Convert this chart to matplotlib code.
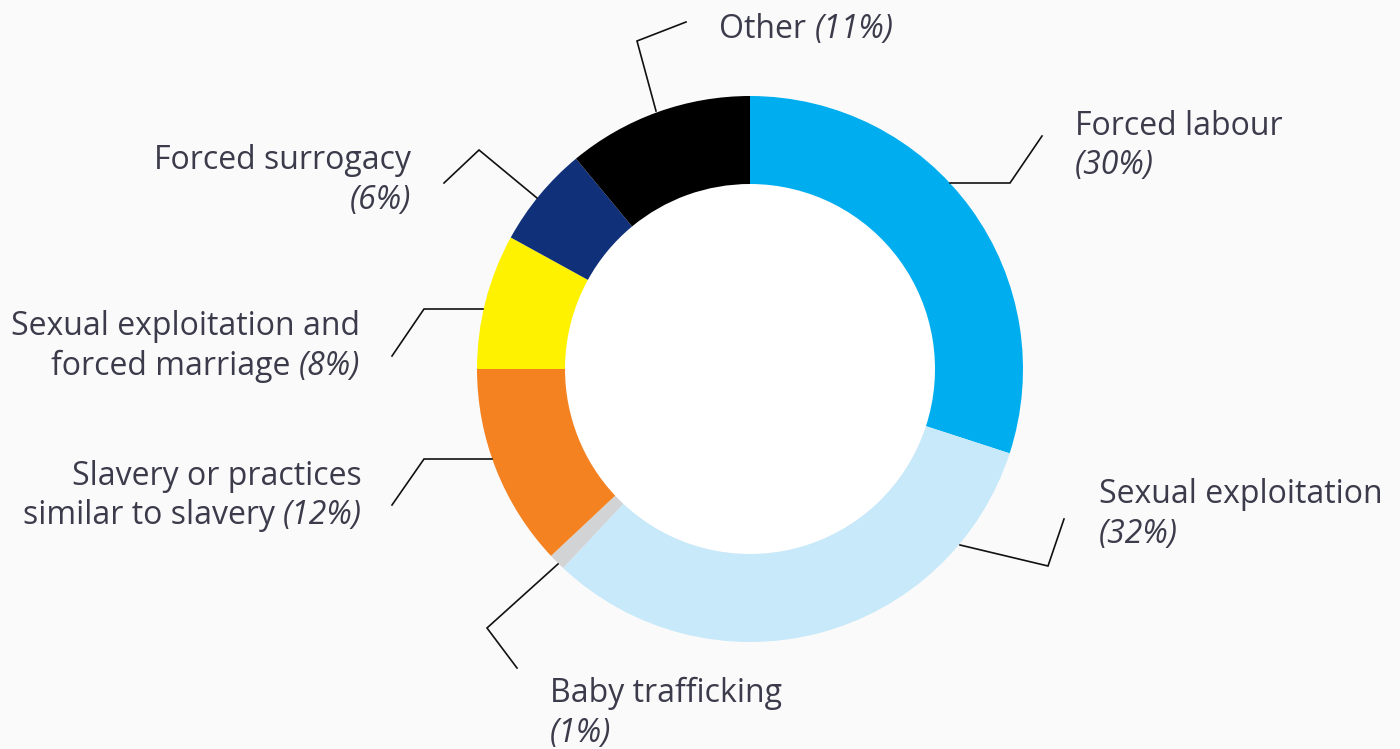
import matplotlib
matplotlib.use('Agg')
from matplotlib import pyplot as plt

# data
labels = ['Forced labour', 'Sexual exploitation', 'Baby trafficking',
          'Slavery or practices similar to slavery',
          'Sexual exploitation and forced marriage', 'Forced surrogacy', 'Other']
shares = [30, 32, 1, 12, 8, 6, 11]
colors = ['#00aeef', '#c7e9f9', '#d1d3d4', '#f58220', '#fff200', '#10317a', '#000000']

W, H = 1400, 749
TXT = '#3b3b4b'
plt.rcParams['font.family'] = ['Open Sans', 'DejaVu Sans']

fig = plt.figure(figsize=(W / 100, H / 100), dpi=100, facecolor='#fafafa')
ax = fig.add_axes([0, 0, 1, 1])
ax.set_facecolor('#fafafa')

cx, cy, r_out, ring = 750, H - 369, 273, 88
ax.pie(shares, colors=colors, startangle=90, counterclock=False,
       radius=r_out, center=(cx, cy),
       wedgeprops=dict(width=ring, linewidth=0))
# white hole in the middle
ax.add_patch(plt.Circle((cx, cy), r_out - ring, facecolor='white', lw=0, zorder=0.5))
ax.set_xlim(0, W)
ax.set_ylim(0, H)
ax.set_aspect('equal')
ax.axis('off')

renderer = fig.canvas.get_renderer()


def seg_text(x, y_px, parts, ha='left'):
    # parts: list of (string, italic) drawn on one baseline
    y = H - y_px
    arts = []
    for s, it in parts:
        t = ax.text(0, y, s, fontsize=23, color=TXT, va='baseline', ha='left',
                    style='italic' if it else 'normal')
        arts.append(t)
    widths = [t.get_window_extent(renderer).width for t in arts]
    start = x if ha == 'left' else x - sum(widths)
    for t, w in zip(arts, widths):
        t.set_x(start)
        start += w


# leader lines (pixel layout)
leaders = [
    [(950, 183), (1010, 183), (1042, 136)],
    [(960, 545), (1048, 566), (1064, 519)],
    [(558, 564), (487, 628), (517, 668)],
    [(492, 459), (424, 459), (392, 505)],
    [(483, 309), (424, 309), (392, 356)],
    [(537, 198), (479, 150), (444, 183)],
    [(656, 111), (637, 41), (686, 22)],
]
for pts in leaders:
    ax.plot([p[0] for p in pts], [H - p[1] for p in pts], color='#111111', lw=1.2,
            solid_joinstyle='miter')

seg_text(1075, 135, [('Forced labour', False)])
seg_text(1075, 174, [('(30%)', True)])
seg_text(1099, 503, [('Sexual exploitation', False)])
seg_text(1099, 543, [('(32%)', True)])
seg_text(550, 702, [('Baby trafficking', False)])
seg_text(550, 742, [('(1%)', True)])
seg_text(362, 485, [('Slavery or practices', False)], ha='right')
seg_text(362, 524, [('similar to slavery ', False), ('(12%)', True)], ha='right')
seg_text(360, 335, [('Sexual exploitation and', False)], ha='right')
seg_text(360, 375, [('forced marriage ', False), ('(8%)', True)], ha='right')
seg_text(411, 169, [('Forced surrogacy', False)], ha='right')
seg_text(411, 209, [('(6%)', True)], ha='right')
seg_text(719, 38, [('Other ', False), ('(11%)', True)])

fig.savefig('out.png', dpi=100, facecolor=fig.get_facecolor())
